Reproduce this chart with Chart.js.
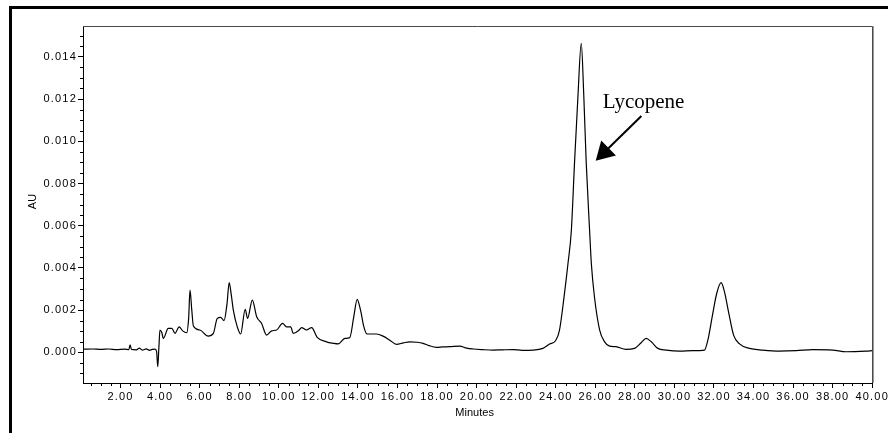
<!DOCTYPE html>
<html><head><meta charset="utf-8">
<script src="https://cdn.jsdelivr.net/npm/chart.js@4.4.1/dist/chart.umd.min.js"></script>
<style>
html,body{margin:0;padding:0;background:#fff;}
#wrap{position:relative;width:888px;height:433px;overflow:hidden;background:#fff;}
#frame{position:absolute;left:9px;top:6px;width:900px;height:500px;border-left:3px solid #000;border-top:3px solid #000;}
canvas{position:absolute;left:0;top:0;}
</style></head><body>
<div id="wrap"><div id="frame"></div><canvas id="c" width="888" height="433"></canvas></div>
<script>
// Retention time (minutes)
const minutes = [
 0.10,0.6,1.0,1.4,1.8,2.2,2.42,2.48,2.55,2.8,2.95,3.1,3.3,3.45,3.6,3.74,3.82,3.88,3.94,3.99,
 4.08,4.16,4.41,4.59,4.75,4.96,5.14,5.34,5.44,5.51,5.6,5.68,6.01,6.43,6.69,6.89,7.06,7.23,7.38,7.49,
 7.6,7.7,7.9,8.07,8.3,8.42,8.66,8.88,9.13,9.38,9.64,9.89,10.19,10.39,10.6,10.73,11.03,11.15,11.4,11.66,
 11.94,12.41,12.75,13.0,13.34,13.59,13.79,13.96,14.13,14.3,14.46,14.94,15.27,15.61,15.95,16.3,16.62,17.0,17.29,17.6,
 17.97,18.3,18.64,19.14,19.5,19.82,20.3,20.83,21.3,21.84,22.3,22.85,23.35,23.69,23.99,24.19,24.42,24.62,24.79,24.95,
 25.12,25.29,25.42,25.54,25.71,25.8,25.96,26.22,26.47,26.72,27.04,27.55,27.98,28.32,28.57,28.83,29.16,29.58,30.26,30.93,
 31.52,31.69,31.91,32.14,32.36,32.53,32.75,32.99,33.29,33.79,34.46,35.31,36.15,36.99,38.0,38.68,39.69,40.0
];
// Absorbance (AU)
const absorbance = [
 0.00015,0.00016,0.00014,0.00016,0.00013,0.00015,0.00013,0.00036,0.00014,0.00012,0.00020,0.00011,0.00017,0.00010,0.00014,0.00015,0.00005,-0.00068,0.00030,0.00106,
 0.00095,0.00066,0.00114,0.00114,0.00090,0.00121,0.00102,0.00093,0.00160,0.00295,0.00200,0.00125,0.00106,0.00077,0.00090,0.00161,0.00166,0.00150,0.00230,0.00330,
 0.00270,0.00200,0.00121,0.00087,0.00204,0.00161,0.00248,0.00169,0.00137,0.00082,0.00102,0.00106,0.00137,0.00121,0.00121,0.00090,0.00106,0.00117,0.00106,0.00117,
 0.00071,0.00050,0.00043,0.00040,0.00066,0.00071,0.00169,0.00251,0.00200,0.00121,0.00087,0.00087,0.00077,0.00058,0.00038,0.00045,0.00050,0.00048,0.00043,0.00032,
 0.00024,0.00026,0.00027,0.00030,0.00020,0.00016,0.00013,0.00011,0.00012,0.00013,0.00010,0.00011,0.00019,0.00040,0.00055,0.00106,0.00263,0.00422,0.00580,0.00900,
 0.01210,0.01464,0.01210,0.00900,0.00580,0.00420,0.00260,0.00106,0.00050,0.00030,0.00027,0.00014,0.00019,0.00046,0.00066,0.00050,0.00019,0.00011,0.00006,0.00008,
 0.00011,0.00058,0.00169,0.00280,0.00330,0.00287,0.00185,0.00082,0.00040,0.00019,0.00011,0.00006,0.00008,0.00013,0.00011,0.00003,0.00006,0.00008
];
// Tick values
const xMajorTicks = [2,4,6,8,10,12,14,16,18,20,22,24,26,28,30,32,34,36,38,40];
const yMajorTicks = [0,0.002,0.004,0.006,0.008,0.010,0.012,0.014];
const xMinorTicks = []; for (let i = 1; i <= 80; i++) xMinorTicks.push(i * 0.5);
const yMinorTicks = []; for (let i = -2; i <= 30; i++) yMinorTicks.push(i * 0.0005);
const xTitle = 'Minutes';
const yTitle = 'AU';
// Callout (data coordinates)
const calloutLabel = 'Lycopene';
const calloutTextAt = [28.44, 0.01158];
const calloutArrowFrom = [28.33, 0.0112];
const calloutArrowTo = [26.02, 0.00908];

const points = minutes.map((t, i) => ({x: t, y: absorbance[i]}));

const deco = {
  id: 'deco',
  beforeDraw(chart) { chart.ctx.letterSpacing = '1.2px'; },
  afterDraw(chart) {
    const {ctx, chartArea: a, scales: {x, y}} = chart;
    ctx.save();
    ctx.letterSpacing = '0px';
    // plot frame top/right
    ctx.strokeStyle = '#4a4a4a'; ctx.lineWidth = 1;
    ctx.beginPath();
    ctx.moveTo(a.left, Math.round(a.top) + 0.5);
    ctx.lineTo(Math.round(a.right) + 0.5, Math.round(a.top) + 0.5);
    ctx.lineTo(Math.round(a.right) + 0.5, a.bottom);
    ctx.stroke();
    ctx.strokeStyle = '#9a9a9a';
    ctx.beginPath();
    ctx.moveTo(Math.round(a.right) + 1.5, a.top);
    ctx.lineTo(Math.round(a.right) + 1.5, a.bottom);
    ctx.stroke();
    // minor ticks
    ctx.strokeStyle = '#000'; ctx.lineWidth = 1;
    ctx.beginPath();
    xMinorTicks.forEach(v => {
      if (xMajorTicks.includes(v) || v < x.min || v > x.max) return;
      const px = Math.round(x.getPixelForValue(v)) + 0.5;
      ctx.moveTo(px, a.bottom); ctx.lineTo(px, a.bottom + 3);
    });
    yMinorTicks.forEach(v => {
      if (yMajorTicks.some(m => Math.abs(m - v) < 1e-9) || v < y.min || v > y.max) return;
      const py = Math.round(y.getPixelForValue(v)) + 0.5;
      ctx.moveTo(a.left, py); ctx.lineTo(a.left - 3, py);
    });
    ctx.stroke();
    // axis titles
    ctx.fillStyle = '#000';
    ctx.font = '11px "Liberation Sans", Arial, sans-serif';
    ctx.textAlign = 'center'; ctx.textBaseline = 'middle';
    ctx.fillText(xTitle, (a.left + a.right) / 2 - 3, 413);
    ctx.save();
    ctx.translate(33, (a.top + a.bottom) / 2 - 3);
    ctx.rotate(-Math.PI / 2);
    ctx.fillText(yTitle, 0, 0);
    ctx.restore();
    // callout
    ctx.font = '21px "Liberation Serif", "Times New Roman", serif';
    ctx.textAlign = 'center'; ctx.textBaseline = 'alphabetic';
    ctx.fillText(calloutLabel, x.getPixelForValue(calloutTextAt[0]), y.getPixelForValue(calloutTextAt[1]));
    const x1 = x.getPixelForValue(calloutArrowFrom[0]), y1 = y.getPixelForValue(calloutArrowFrom[1]);
    const x2 = x.getPixelForValue(calloutArrowTo[0]), y2 = y.getPixelForValue(calloutArrowTo[1]);
    const len = Math.hypot(x2 - x1, y2 - y1), ux = (x2 - x1) / len, uy = (y2 - y1) / len;
    const hl = 18, hw = 10.5;
    const bx = x2 - ux * hl, by = y2 - uy * hl;
    ctx.strokeStyle = '#000'; ctx.lineWidth = 2;
    ctx.beginPath(); ctx.moveTo(x1, y1); ctx.lineTo(bx + ux * 2, by + uy * 2); ctx.stroke();
    ctx.beginPath();
    ctx.moveTo(x2, y2);
    ctx.lineTo(bx - uy * hw, by + ux * hw);
    ctx.lineTo(bx + uy * hw, by - ux * hw);
    ctx.closePath(); ctx.fill();
    ctx.restore();
  }
};

const tickFont = {family: '"Liberation Sans", Arial, sans-serif', size: 11};

new Chart(document.getElementById('c'), {
  type: 'line',
  data: {datasets: [{
    data: points,
    borderColor: '#000',
    borderWidth: 1.2,
    pointRadius: 0,
    fill: false,
    cubicInterpolationMode: 'monotone'
  }]},
  options: {
    responsive: false,
    devicePixelRatio: 1,
    animation: false,
    events: [],
    layout: {padding: {left: 0, top: 26, right: 15, bottom: 0}},
    plugins: {legend: {display: false}, tooltip: {enabled: false}},
    scales: {
      x: {
        type: 'linear', position: 'bottom', min: 0.1, max: 40,
        afterBuildTicks: s => { s.ticks = xMajorTicks.map(v => ({value: v})); },
        afterFit: s => { s.height = 50; },
        grid: {drawOnChartArea: false, drawTicks: true, tickLength: 5, color: '#000', tickColor: '#000', tickWidth: 1},
        border: {display: true, color: '#000', width: 1},
        ticks: {font: tickFont, color: '#000', padding: 2, maxRotation: 0, autoSkip: false,
          callback: v => Number(v).toFixed(2)}
      },
      y: {
        type: 'linear', position: 'left', min: -0.00145, max: 0.01546,
        afterBuildTicks: s => { s.ticks = yMajorTicks.map(v => ({value: v})); },
        afterFit: s => { s.width = 83; },
        grid: {drawOnChartArea: false, drawTicks: true, tickLength: 5, color: '#000', tickColor: '#000', tickWidth: 1},
        border: {display: true, color: '#000', width: 1},
        ticks: {font: tickFont, color: '#000', padding: 1, autoSkip: false,
          callback: v => Number(v).toFixed(3)}
      }
    }
  },
  plugins: [deco]
});
</script>
</body></html>
